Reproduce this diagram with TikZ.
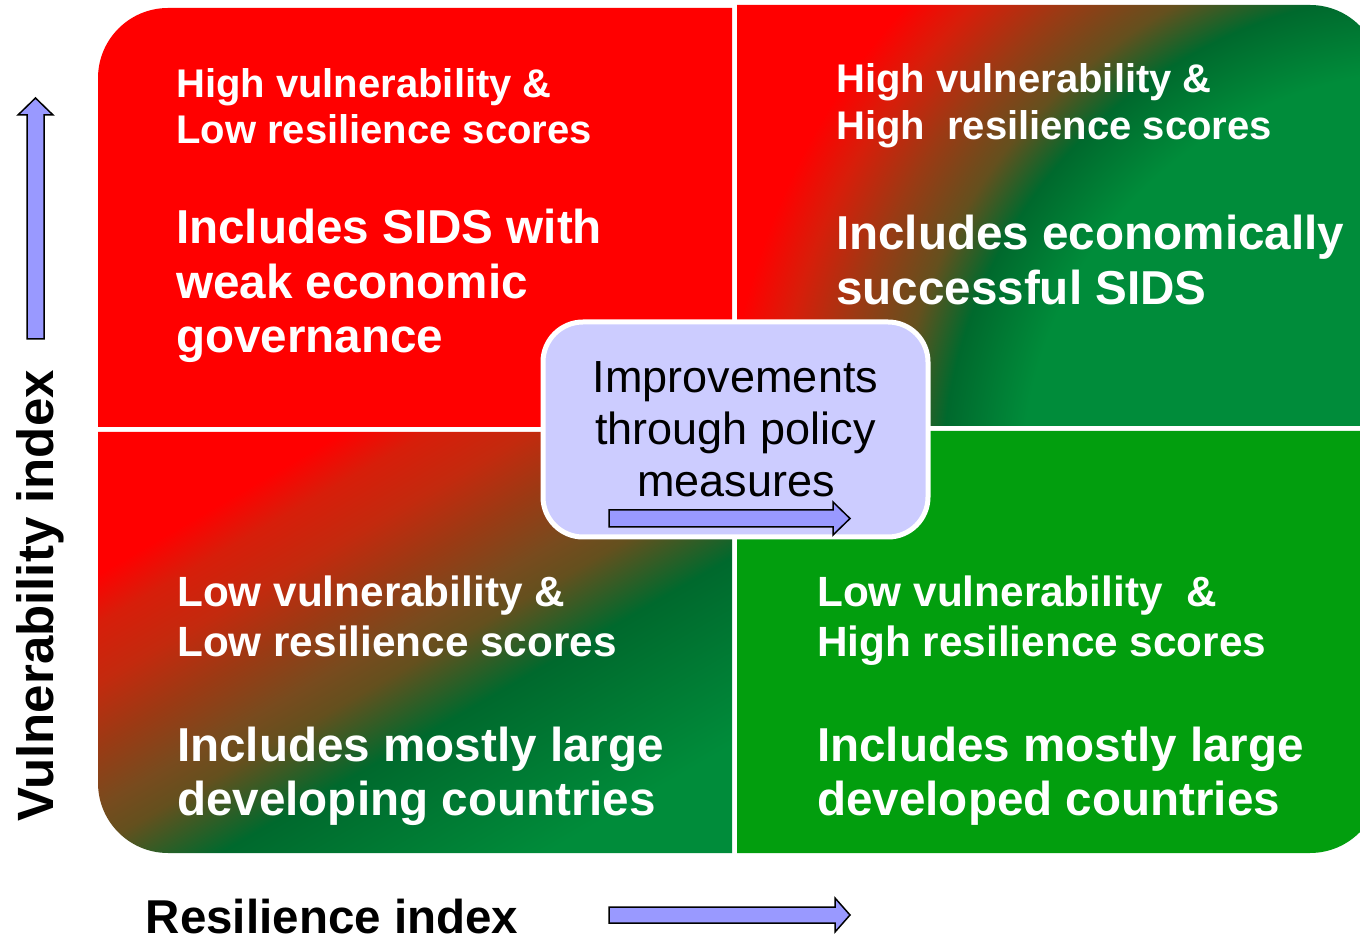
\documentclass[tikz,border=0pt]{standalone}
\usepackage{fontspec}
\setmainfont{Liberation Sans}
\definecolor{qred}{RGB}{255,0,0}
\definecolor{qorange}{RGB}{215,30,10}
\definecolor{qorb}{RGB}{195,42,14}
\definecolor{qbrown}{RGB}{155,58,20}
\definecolor{qolb}{RGB}{120,75,30}
\definecolor{qolive}{RGB}{100,80,30}
\definecolor{qdk}{RGB}{0,105,45}
\definecolor{qgr}{RGB}{0,140,58}
\definecolor{qbright}{RGB}{2,158,14}
\definecolor{boxfill}{RGB}{204,204,255}
\definecolor{arrfill}{RGB}{153,153,255}
\pgfdeclarehorizontalshading{blshade}{100bp}{color(0bp)=(qred); color(28bp)=(qred); color(32.3bp)=(qorange); color(37.5bp)=(qorb); color(43bp)=(qbrown); color(48.3bp)=(qolb); color(51.7bp)=(qolive); color(58.5bp)=(qdk); color(75bp)=(qgr); color(100bp)=(qgr)}
\pgfdeclareradialshading{trrad}{\pgfpoint{0bp}{0bp}}{color(0bp)=(qgr); color(10.25bp)=(qgr); color(12.25bp)=(qdk); color(13.5bp)=(qolive); color(15bp)=(qbrown); color(16.5bp)=(qorange); color(17.75bp)=(qred); color(50bp)=(qred)}
\tikzset{
  hdA/.style={font=\fontsize{40}{48}\selectfont\bfseries, text=white, anchor=base west, inner sep=0pt},
  hdB/.style={font=\fontsize{42.3}{50}\selectfont\bfseries, text=white, anchor=base west, inner sep=0pt},
  big/.style={font=\fontsize{47.6}{56}\selectfont\bfseries, text=white, anchor=base west, inner sep=0pt},
  boxtxt/.style={font=\fontsize{45}{54}\selectfont, text=black, anchor=base, inner sep=0pt},
  axislbl/.style={font=\fontsize{47.5}{56}\selectfont\bfseries, text=black, anchor=base, inner sep=0pt},
  fatarrow/.style={fill=arrfill, draw=black, line width=1.5pt, line join=miter},
}
\begin{document}
\begin{tikzpicture}[x=1pt,y=1pt]
\useasboundingbox (0,0) rectangle (1360,938);
% quadrants
\fill[qred] (98,511) -- (98,860) arc[start angle=180,end angle=90,radius=70] -- (732,930) -- (732,511) -- cycle;
\begin{scope}
  \clip (737,512) -- (737,933) -- (1310,933) arc[start angle=90,end angle=0,radius=70] -- (1380,512) -- cycle;
  \shade[shading=trrad] (1432,457) circle[radius=1000];
\end{scope}
\shade[shading=blshade, shading angle=-60] (98,506) -- (732,506) -- (732,85) -- (168,85) arc[start angle=270,end angle=180,radius=70] -- cycle;
\fill[qbright] (737,507) -- (1380,507) -- (1380,155) arc[start angle=0,end angle=-90,radius=70] -- (737,85) -- cycle;
% top-left texts
\node[hdA] (tl1) at (176,840) {High vulnerability \&};
\node[hdA] (tl2) at (176,794) {Low resilience scores};
\node[big] (tl3) at (176,694) {Includes SIDS with};
\node[big] (tl4) at (176,639) {weak economic};
\node[big] (tl5) at (176,585) {governance};
% top-right texts
\node[hdA] (tr1) at (836,845) {High vulnerability \&};
\node[hdA] (tr2) at (836,798) {High~ resilience scores};
\node[big] (tr3) at (836,688) {Includes economically};
\node[big] (tr4) at (836,633) {successful SIDS};
% bottom-left texts
\node[hdB] (bl1) at (177,331) {Low vulnerability \&};
\node[hdB] (bl2) at (177,282) {Low resilience scores};
\node[big] (bl3) at (177,177) {Includes mostly large};
\node[big] (bl4) at (177,123) {developing countries};
% bottom-right texts
\node[hdB] (br1) at (817,331) {Low vulnerability~ \&};
\node[hdB] (br2) at (817,282) {High resilience scores};
\node[big] (br3) at (817,177) {Includes mostly large};
\node[big] (br4) at (817,123) {developed countries};
% centre box
\node[draw=white, line width=5pt, fill=boxfill, rounded corners=40pt, minimum width=385pt, minimum height=215pt, inner sep=0pt] (centre) at (735.5,508.5) {};
\node[boxtxt] (c1) at (735.5,545) {Improvements};
\node[boxtxt] (c2) at (735.5,493) {through policy};
\node[boxtxt] (c3) at (736,441) {measures};
\draw[fatarrow] (609,411) -- (609,428) -- (833,428) -- (833,436) -- (850,419.5) -- (833,403) -- (833,411) -- cycle;
% axes
\draw[fatarrow] (27,599) -- (44,599) -- (44,823) -- (53,823) -- (35.5,840) -- (18,823) -- (27,823) -- cycle;
\draw[fatarrow] (609,15) -- (609,31) -- (835,31) -- (835,40) -- (850,23) -- (835,6) -- (835,15) -- cycle;
\node[axislbl, font=\fontsize{51}{60}\selectfont\bfseries, rotate=90] (vlab) at (53,342) {Vulnerability index};
\node[axislbl] (rlab) at (332,5) {Resilience index};
\end{tikzpicture}
\end{document}
